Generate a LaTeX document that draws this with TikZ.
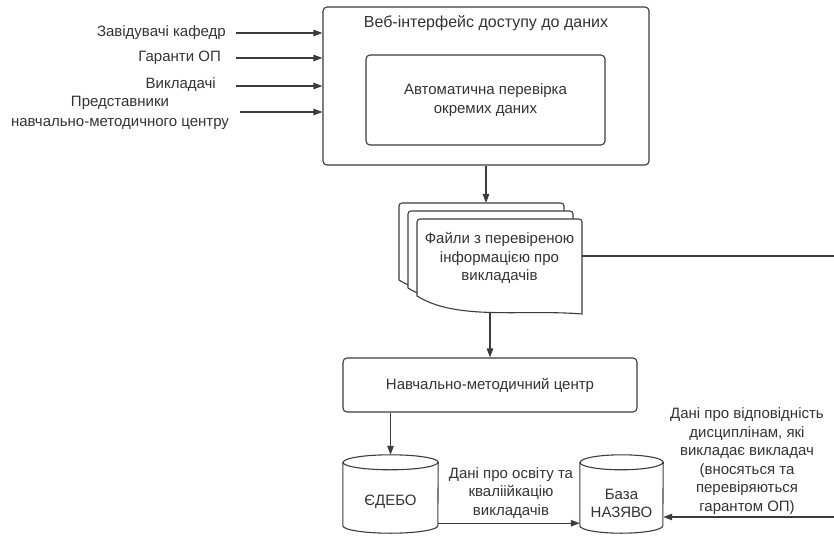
\documentclass[tikz,border=0pt]{standalone}
\usepackage{fontspec}
\setmainfont{Liberation Sans}
\usetikzlibrary{arrows.meta,calc}
\definecolor{ln}{HTML}{3C3C3C}
\definecolor{tx}{HTML}{333333}
\begin{document}
\begin{tikzpicture}[x=1pt,y=1pt, font=\fontsize{15}{18.5}\selectfont, text=tx,
  box/.style={draw=ln, line width=1.1pt, rounded corners=4pt, fill=white},
  docst/.style={draw=ln, line width=1.1pt, fill=white},
  conn/.style={draw=ln, line width=1.1pt},
  arr/.style={conn, -{Triangle[length=9pt,width=6.5pt]}},
  lbl/.style={align=center, inner sep=0pt}]
\useasboundingbox (0,0) rectangle (834,-537);

% web interface
\node[box, minimum width=326, minimum height=158, inner sep=0] (web) at (486,-86) {};
\node[lbl, font=\fontsize{16}{19}\selectfont] (webt) at (486,-23) {Веб-інтерфейс доступу до даних};
\node[box, minimum width=239, minimum height=90, align=center] (auto) at (485.5,-100) {Автоматична перевірка\\окремих даних};

% left inputs
\node[lbl, anchor=east] (l1) at (226,-33) {Завідувачі кафедр};
\node[lbl, anchor=east] (l2) at (221,-58) {Гаранти ОП};
\node[lbl, anchor=east] (l3) at (216,-85) {Викладачі};
\node[lbl, font=\fontsize{15}{20}\selectfont] (l4) at (120,-113) {Представники\\навчально-методичного центру};
\coordinate (s1) at (236,-33);
\coordinate (s2) at (236,-58);
\coordinate (s3) at (236,-86);
\coordinate (s4) at (240,-112);
\draw[arr] (s1) -- (s1 -| web.west);
\draw[arr] (s2) -- (s2 -| web.west);
\draw[arr] (s3) -- (s3 -| web.west);
\draw[arr] (s4) -- (s4 -| web.west);

% documents
\coordinate (docA) at (399,-203);
\coordinate (docB) at (408,-211);
\coordinate (docC) at (417,-219);
\foreach \d in {docA,docB,docC}{
  \draw[docst, shift={(\d)}] (0,-77) [rounded corners=3pt] -- (0,0) -- (165,0) [sharp corners] -- (165,-95) .. controls (105,-90) and (40,-102) .. (0,-77) -- cycle;
}
\node[lbl, minimum width=165, minimum height=78, anchor=north west] (files) at (docC) {};
\node[lbl] (filest) at (499.5,-258) {Файли з перевіреною\\інформацією про\\викладачів};
\coordinate (filesbot) at (490,-313);
\draw[arr] (web.south) -- (web.south |- docA);

% right line
\coordinate (rout) at (834,-256);
\draw[conn] (files.east |- rout) -- (rout);

% NMC
\node[box, minimum width=294, minimum height=54] (nmc) at (490,-385) {Навчально-методичний центр};
\draw[arr] (filesbot) -- (filesbot |- nmc.north);

% cylinders
\node[minimum width=95, minimum height=78, inner sep=0] (edebo) at (390.5,-494) {};
\node[minimum width=83, minimum height=78, inner sep=0] (baza) at (621.5,-494) {};
\draw[docst] ([yshift=-7.5pt]edebo.north west) -- ([yshift=7.5pt]edebo.south west)
  arc[start angle=180, end angle=360, x radius=47.5pt, y radius=7.5pt]
  -- ([yshift=-7.5pt]edebo.north east)
  arc[start angle=0, end angle=180, x radius=47.5pt, y radius=7.5pt] -- cycle;
\draw[conn] ([yshift=-7.5pt]edebo.north west) arc[start angle=180, end angle=360, x radius=47.5pt, y radius=7.5pt];
\draw[docst] ([yshift=-7.5pt]baza.north west) -- ([yshift=7.5pt]baza.south west)
  arc[start angle=180, end angle=360, x radius=41.5pt, y radius=7.5pt]
  -- ([yshift=-7.5pt]baza.north east)
  arc[start angle=0, end angle=180, x radius=41.5pt, y radius=7.5pt] -- cycle;
\draw[conn] ([yshift=-7.5pt]baza.north west) arc[start angle=180, end angle=360, x radius=41.5pt, y radius=7.5pt];
\node[lbl] (edebot) at (390.5,-502) {ЄДЕБО};
\node[lbl] (bazat) at (621.5,-503.5) {База\\НАЗЯВО};

\draw[arr] (edebo.north |- nmc.south) -- (edebo.north);
\draw[arr] ([yshift=10pt]edebo.south east) -- ([yshift=10pt]baza.south west);
\node[lbl] (midt) at (511,-493) {Дані про освіту та\\кваліійкацію\\викладачів};

\coordinate (rin) at (834,-517);
\draw[arr] (rin) -- (rin -| baza.east);
\node[lbl] (rt) at (747,-461) {Дані про відповідність\\дисциплінам, які\\викладає викладач\\(вносяться та\\перевіряються\\гарантом ОП)};
\end{tikzpicture}
\end{document}
